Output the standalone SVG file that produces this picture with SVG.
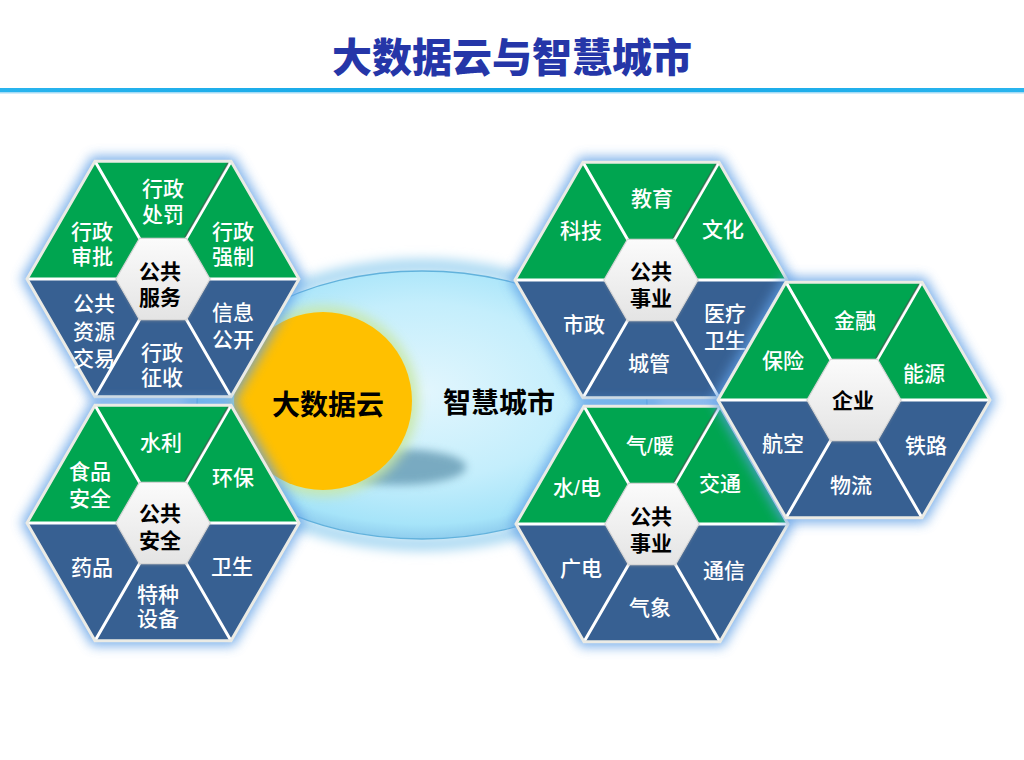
<svg xmlns="http://www.w3.org/2000/svg" xmlns:xlink="http://www.w3.org/1999/xlink" width="1024" height="760" viewBox="0 0 1024 760">
<style>
.w{fill:#fff;font-family:"Liberation Sans","Noto Sans CJK SC",sans-serif;font-size:21px;font-weight:500;text-anchor:middle}
.c{fill:#000;font-family:"Liberation Sans","Noto Sans CJK SC",sans-serif;font-size:21px;font-weight:700;text-anchor:middle}
.big{fill:#000;font-family:"Liberation Sans","Noto Sans CJK SC",sans-serif;font-size:28px;font-weight:700;text-anchor:middle}
.sep{stroke:#fff;stroke-width:3;fill:none}
</style>
<defs>
<filter id="b6" x="-30%" y="-30%" width="160%" height="160%"><feGaussianBlur stdDeviation="6"/></filter>
<filter id="b4" x="-30%" y="-30%" width="160%" height="160%"><feGaussianBlur stdDeviation="4"/></filter>
<filter id="b2" x="-30%" y="-30%" width="160%" height="160%"><feGaussianBlur stdDeviation="1.5"/></filter>
<linearGradient id="innerG" x1="0" y1="0" x2="0" y2="1"><stop offset="0" stop-color="#fbfbfb"/><stop offset="1" stop-color="#e4e4e4"/></linearGradient>
<radialGradient id="ellG" cx="50%" cy="45%" r="55%"><stop offset="0" stop-color="#e2f6fd"/><stop offset="0.6" stop-color="#c4eefc"/><stop offset="0.9" stop-color="#a6e4f9"/><stop offset="1" stop-color="#8fcdee"/></radialGradient>
<linearGradient id="lineG" x1="0" y1="0" x2="1" y2="0"><stop offset="0" stop-color="#29b4ee"/><stop offset="0.5" stop-color="#12a6e6"/><stop offset="1" stop-color="#29b4ee"/></linearGradient>
<g id="hexbase">
<polygon points="142,0 71,123 -71,123 -142,0 -71,-123 71,-123" fill="#5e9fe6" opacity="0.8" filter="url(#b6)"/>
<path d="M0,0 L-136,0 L-68,-117.8 L68,-117.8 L136,0 Z" fill="#00a550"/>
<path d="M0,0 L136,0 L68,117.8 L-68,117.8 L-136,0 Z" fill="#376092"/>
<path class="sep" d="M-136,0 H136 M-68,-117.8 L68,117.8 M68,-117.8 L-68,117.8"/>
<path d="M65,-116 L22,-42" stroke="#4a4a4a" stroke-width="1.6" opacity="0.55" fill="none"/>
<polygon points="136,0 68,117.8 -68,117.8 -136,0 -68,-117.8 68,-117.8" fill="none" stroke="#ebebe5" stroke-width="3"/>
<polygon points="47,1 23.5,42 -23.5,42 -47,1 -23.5,-40 23.5,-40" fill="#9a9a9a" opacity="0.5" filter="url(#b2)"/>
<polygon points="47,0 23.5,40.7 -23.5,40.7 -47,0 -23.5,-40.7 23.5,-40.7" fill="url(#innerG)" stroke="#d6d6d6" stroke-width="1.2"/>
</g>
</defs>
<rect width="1024" height="760" fill="#fff"/>
<g id="title">
<text x="512" y="72" fill="#2536a8" font-family="'Noto Sans CJK SC','Noto Sans CJK JP',sans-serif" font-size="40" font-weight="900" text-anchor="middle">大数据云与智慧城市</text>
<rect x="0" y="88" width="1024" height="4" fill="url(#lineG)"/>
<rect x="0" y="92" width="1024" height="1.5" fill="#a6dcf5"/>
</g>
<g id="center">
<ellipse cx="422" cy="405" rx="229" ry="139" fill="none" stroke="#a9d8f2" stroke-width="14" filter="url(#b6)"/>
<ellipse cx="422" cy="405" rx="225" ry="134" fill="url(#ellG)"/>
<ellipse cx="422" cy="405" rx="225" ry="134" fill="none" stroke="#62b2dc" stroke-width="1.3"/>
<ellipse cx="398" cy="467" rx="68" ry="18" fill="#4f86a2" opacity="0.65" filter="url(#b4)"/>
<circle cx="323" cy="401" r="95" fill="#c9e8a6" opacity="0.9" filter="url(#b6)"/>
<circle cx="323" cy="401" r="89" fill="#ffc000"/>
<text class="big" x="328" y="415">大数据云</text>
<text class="big" x="499" y="413">智慧城市</text>
</g>
<g id="hex-public-service">
<use xlink:href="#hexbase" transform="translate(163,279)"/>
<text class="w" x="163" y="196">行政<tspan x="163" dy="26">处罚</tspan></text>
<text class="w" x="92" y="239">行政<tspan x="92" dy="25">审批</tspan></text>
<text class="w" x="233" y="239">行政<tspan x="233" dy="25">强制</tspan></text>
<text class="c" x="160" y="279">公共<tspan x="160" dy="26">服务</tspan></text>
<text class="w" x="94" y="311">公共<tspan x="94" dy="28">资源</tspan><tspan x="94" dy="27">交易</tspan></text>
<text class="w" x="233" y="320">信息<tspan x="233" dy="27">公开</tspan></text>
<text class="w" x="162" y="360">行政<tspan x="162" dy="25">征收</tspan></text>
</g>
<g id="hex-public-safety">
<use xlink:href="#hexbase" transform="translate(163,523)"/>
<text class="w" x="161" y="450">水利</text>
<text class="w" x="90" y="479">食品<tspan x="90" dy="27">安全</tspan></text>
<text class="w" x="233" y="485">环保</text>
<text class="c" x="160" y="521">公共<tspan x="160" dy="27">安全</tspan></text>
<text class="w" x="92" y="575">药品</text>
<text class="w" x="232" y="574">卫生</text>
<text class="w" x="158" y="602">特种<tspan x="158" dy="24">设备</tspan></text>
</g>
<g id="hex-public-affairs-1">
<use xlink:href="#hexbase" transform="translate(651,280)"/>
<text class="w" x="652" y="206">教育</text>
<text class="w" x="581" y="238">科技</text>
<text class="w" x="723" y="237">文化</text>
<text class="c" x="651" y="279">公共<tspan x="651" dy="27">事业</tspan></text>
<text class="w" x="584" y="332">市政</text>
<text class="w" x="725" y="321">医疗<tspan x="725" dy="27">卫生</tspan></text>
<text class="w" x="649" y="371">城管</text>
</g>
<g id="hex-public-affairs-2">
<use xlink:href="#hexbase" transform="translate(652,524)"/>
<text class="w" x="650" y="453">气/暖</text>
<text class="w" x="577" y="495">水/电</text>
<text class="w" x="720" y="491">交通</text>
<text class="c" x="651" y="524">公共<tspan x="651" dy="27">事业</tspan></text>
<text class="w" x="581" y="576">广电</text>
<text class="w" x="724" y="578">通信</text>
<text class="w" x="650" y="615">气象</text>
</g>
<g id="hex-enterprise">
<use xlink:href="#hexbase" transform="translate(854,400)"/>
<text class="w" x="855" y="328">金融</text>
<text class="w" x="783" y="368">保险</text>
<text class="w" x="924" y="381">能源</text>
<text class="c" x="853" y="408">企业</text>
<text class="w" x="783" y="451">航空</text>
<text class="w" x="926" y="453">铁路</text>
<text class="w" x="851" y="493">物流</text>
</g>
</svg>
